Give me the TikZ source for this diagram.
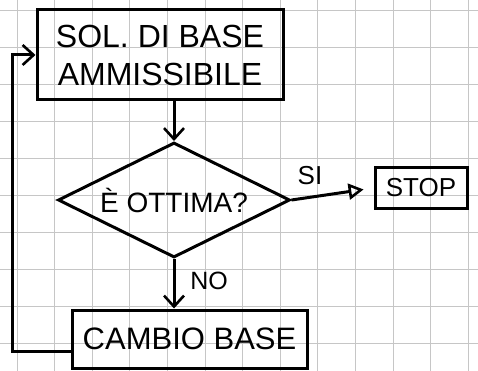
\documentclass[tikz,border=0pt]{standalone}
\usepackage{fontspec}
\setmainfont{Liberation Sans}
\usetikzlibrary{shapes.geometric, arrows.meta, positioning}

\begin{document}
\begin{tikzpicture}[
    x=1pt, y=-1pt,
    box/.style={rectangle, draw, line width=3pt, inner sep=0pt, align=center},
    decision/.style={diamond, draw, line width=3pt, inner sep=0pt, aspect=2},
    lbl/.style={inner sep=0pt},
    arrow/.style={-{Straight Barb[length=11pt, width=20pt, line width=2.6pt]}, line width=3pt},
    yesarrow/.style={-{Triangle[open, length=15pt, width=16pt, line width=2.6pt]}, line width=3pt},
    gridline/.style={gray!45, line width=0.8pt},
]

\useasboundingbox (0,0) rectangle (478,371);

% Squared paper
\foreach \i in {0,...,12}
    \draw[gridline] (17+37.6*\i,0) -- ++(0,371);
\foreach \j in {0,...,9}
    \draw[gridline] (0,10+37*\j) -- ++(478,0);

% Start box
\node[box, minimum width=246pt, minimum height=90pt, font=\fontsize{32}{38}\selectfont] (sol) at (160,55) {SOL. DI BASE\\AMMISSIBILE};

% Test
\node[decision, minimum width=232pt, minimum height=115pt, font=\fontsize{28}{32}\selectfont] (ottima) at (174,200) {È OTTIMA?};

% Stop
\node[box, minimum width=92pt, minimum height=41pt, font=\fontsize{26}{30}\selectfont] (stop) at (421,188) {STOP};

% Change of basis
\node[box, minimum width=235pt, minimum height=58pt, font=\fontsize{31}{36}\selectfont] (cambio) at (189.5,339) {CAMBIO BASE};

% Arrows
\draw[arrow] (sol.south -| ottima.north) -- (ottima.north);
\draw[yesarrow, shorten >=10pt] (ottima.east) -- (stop.west);
\node[lbl, font=\fontsize{26}{30}\selectfont] (si) at (310,176) {SI};
\draw[arrow] (ottima.south) -- (ottima.south |- cambio.north);
\node[lbl, font=\fontsize{25}{30}\selectfont] (no) at (209,281) {NO};

% Loop back
\draw[arrow] ([yshift=-12pt]cambio.west) -- ++(-58,0) |- (sol.west);

\end{tikzpicture}
\end{document}
